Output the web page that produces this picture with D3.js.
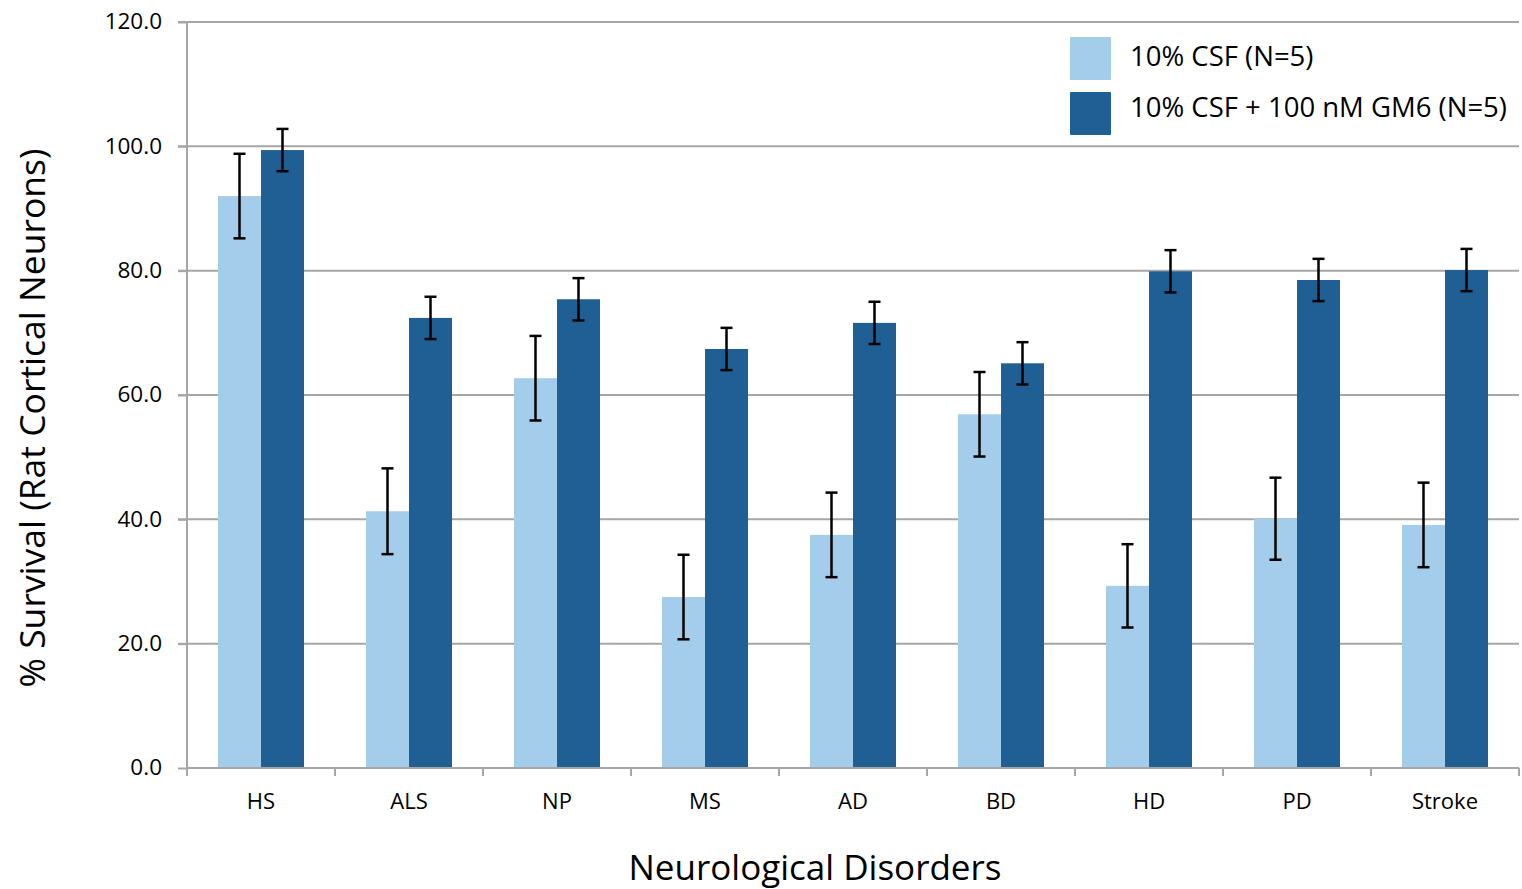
<!DOCTYPE html>
<html lang="en">
<head>
<meta charset="utf-8">
<script src="https://cdn.jsdelivr.net/npm/d3@7"></script>
<style>
  body { margin: 0; background: #fff; }
  text { font-family: "Open Sans", "Noto Sans", sans-serif; fill: #000; }
</style>
</head>
<body>
<script>
var categories = ["HS", "ALS", "NP", "MS", "AD", "BD", "HD", "PD", "Stroke"];
var seriesNames = ["10% CSF (N=5)", "10% CSF + 100 nM GM6 (N=5)"];
var csfValues = [92.0, 41.3, 62.7, 27.5, 37.5, 56.9, 29.3, 40.1, 39.1];
var csfErrors = [6.8, 6.9, 6.8, 6.8, 6.8, 6.8, 6.7, 6.6, 6.8];
var gm6Values = [99.4, 72.4, 75.4, 67.4, 71.6, 65.1, 79.9, 78.5, 80.1];
var gm6Errors = [3.4, 3.4, 3.4, 3.4, 3.4, 3.4, 3.4, 3.4, 3.4];
var yTicks = [0, 20, 40, 60, 80, 100, 120];
var colors = ["#a3cdeb", "#1f5f94"];

var width = 1522, height = 889;
var mLeft = 187, mRight = 1519, mTop = 22, mBottom = 768;

var svg = d3.select("body").append("svg")
    .attr("width", width)
    .attr("height", height);

var x = d3.scaleBand().domain(categories).range([mLeft, mRight]).paddingInner(0).paddingOuter(0);
var y = d3.scaleLinear().domain([0, 120]).range([mBottom, mTop]);
var barW = 43;

// gridlines
svg.selectAll("line.grid")
    .data(yTicks.filter(function(d){ return d > 0; }))
    .enter().append("line")
    .attr("class", "grid")
    .attr("x1", mLeft - 9).attr("x2", mRight)
    .attr("y1", function(d){ return y(d); })
    .attr("y2", function(d){ return y(d); })
    .style("stroke", "#a6a6a6")
    .style("stroke-width", 2);

// y axis
var yAxis = svg.append("g")
    .attr("transform", "translate(" + mLeft + ",0)")
    .call(d3.axisLeft(y).tickValues(yTicks).tickSize(9).tickPadding(16)
        .tickFormat(function(d){ return d.toFixed(1); }));
yAxis.select(".domain").style("stroke", "#a6a6a6").style("stroke-width", 2)
    .attr("d", "M0," + mBottom + "V" + mTop);
yAxis.selectAll(".tick line").style("stroke", "#a6a6a6").style("stroke-width", 2);
yAxis.selectAll(".tick text").style("font-size", "22.5px").attr("dy", "0.3em")
    .style("font-family", "'Open Sans', sans-serif");

// bars
var groups = svg.selectAll("g.cat")
    .data(categories)
    .enter().append("g")
    .attr("class", "cat");

groups.append("rect")
    .attr("x", function(d){ return x(d) + x.bandwidth() / 2 - barW; })
    .attr("width", barW)
    .attr("y", function(d, i){ return y(csfValues[i]); })
    .attr("height", function(d, i){ return mBottom - y(csfValues[i]); })
    .style("fill", colors[0]);

groups.append("rect")
    .attr("x", function(d){ return x(d) + x.bandwidth() / 2; })
    .attr("width", barW)
    .attr("y", function(d, i){ return y(gm6Values[i]); })
    .attr("height", function(d, i){ return mBottom - y(gm6Values[i]); })
    .style("fill", colors[1]);

// x axis
var xAxis = svg.append("g")
    .attr("transform", "translate(0," + mBottom + ")");
xAxis.append("line")
    .attr("x1", mLeft).attr("x2", mRight)
    .style("stroke", "#a6a6a6").style("stroke-width", 2);
xAxis.selectAll("line.xt")
    .data(categories.concat(["end"]))
    .enter().append("line")
    .attr("class", "xt")
    .attr("x1", function(d, i){ return mLeft + i * x.bandwidth(); })
    .attr("x2", function(d, i){ return mLeft + i * x.bandwidth(); })
    .attr("y1", 0).attr("y2", 8)
    .style("stroke", "#a6a6a6").style("stroke-width", 2);
xAxis.selectAll("text")
    .data(categories)
    .enter().append("text")
    .attr("x", function(d){ return x(d) + x.bandwidth() / 2; })
    .attr("y", 41)
    .attr("text-anchor", "middle")
    .style("font-size", "22px")
    .text(function(d){ return d; });

// error bars
function errorBar(cx, v, e) {
    var g = svg.append("g").style("stroke", "#000").style("stroke-width", 2.5);
    g.append("line").attr("x1", cx).attr("x2", cx).attr("y1", y(v + e)).attr("y2", y(v - e));
    g.append("line").attr("x1", cx - 6).attr("x2", cx + 6).attr("y1", y(v + e)).attr("y2", y(v + e));
    g.append("line").attr("x1", cx - 6).attr("x2", cx + 6).attr("y1", y(v - e)).attr("y2", y(v - e));
}
categories.forEach(function(c, i){
    var mid = x(c) + x.bandwidth() / 2;
    errorBar(mid - barW / 2, csfValues[i], csfErrors[i]);
    errorBar(mid + barW / 2, gm6Values[i], gm6Errors[i]);
});

// axis titles
svg.append("text")
    .attr("transform", "translate(45,418) rotate(-90)")
    .attr("text-anchor", "middle")
    .style("font-size", "35.5px")
    .text("% Survival (Rat Cortical Neurons)");

svg.append("text")
    .attr("x", 815).attr("y", 880)
    .attr("text-anchor", "middle")
    .style("font-size", "35px")
    .text("Neurological Disorders");

// legend
var legend = svg.append("g").attr("transform", "translate(1070,37)");
seriesNames.forEach(function(s, i){
    legend.append("rect")
        .attr("x", 0).attr("y", i * 55)
        .attr("width", 41).attr("height", 43)
        .attr("rx", 1)
        .style("fill", colors[i]);
    legend.append("text")
        .attr("x", 60).attr("y", i * 51 + 29)
        .style("font-size", "27.5px")
        .text(s);
});
</script>
</body>
</html>
